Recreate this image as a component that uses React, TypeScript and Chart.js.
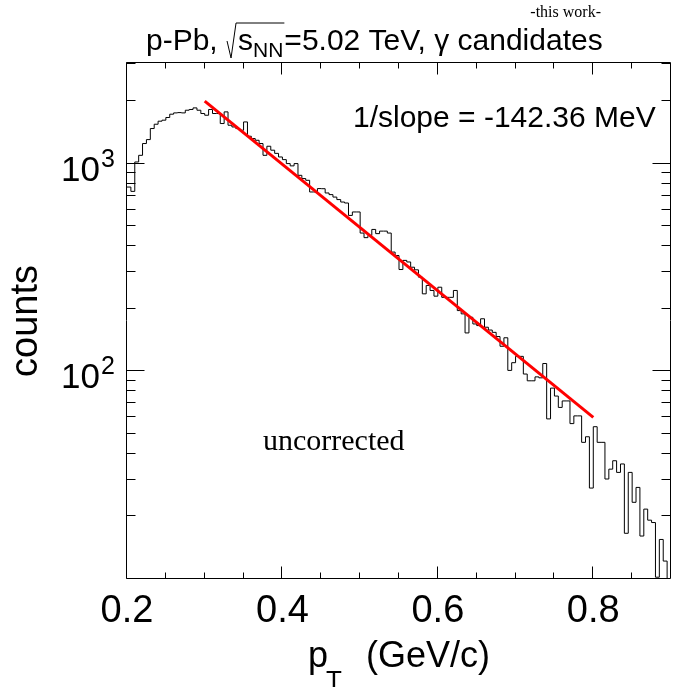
import React, { useEffect, useRef } from "react";
import { Chart, registerables } from "chart.js";

Chart.register(...registerables);

// ---- data ----
const BIN_LOW = 0.2;
const BIN_WIDTH = 0.005;
const counts = [
  771, 735, 1018, 1096, 1249, 1305, 1475, 1547, 1600, 1618,
  1667, 1729, 1754, 1760, 1754, 1807, 1822, 1854, 1807, 1742,
  1709, 1822, 1742, 1742, 1559, 1774, 1530, 1501, 1474, 1447,
  1587, 1354, 1320, 1295, 1249, 1096, 1212, 1160, 1120, 1076,
  1045, 1000, 975, 1000, 878, 847, 831, 730, 730, 758,
  757, 722, 709, 690, 671, 653, 646, 563, 585, 585,
  463, 440, 451, 482, 460, 473, 473, 463, 375, 361,
  309, 342, 336, 317, 308, 284, 236, 259, 245, 230,
  254, 227, 227, 227, 245, 196, 189, 153, 182, 169,
  166, 179, 163, 158, 154, 147, 132, 145, 101, 110,
  118, 118, 97, 90, 90, 94, 93, 109, 59, 83,
  76, 67, 72, 72, 56, 61, 61, 45.5, 48.4, 27.4,
  54.1, 45.5, 45.5, 30.3, 33.8, 37.1, 32.6, 35.8, 16.6, 32.6,
  23.4, 27.6, 16.1, 21.7, 19.2, 18.7, 10.2, 15.5, 12.2, 9,
];
const fitX = [0.3, 0.8];
const fitY = [2000, 60];

const X_MIN = 0.2;
const X_MAX = 0.9;
const Y_MIN = 10;
const Y_MAX = 3050;
const xMajorTicks = [0.2, 0.4, 0.6, 0.8];
const xTickLabels = ["0.2", "0.4", "0.6", "0.8"];
const xMinorTicks = [0.25, 0.3, 0.35, 0.45, 0.5, 0.55, 0.65, 0.7, 0.75, 0.85];
const yMajorTicks = [100, 1000];
const yTickExponents = ["2", "3"];
const yMinorTicks = [20, 30, 40, 50, 60, 70, 80, 90, 200, 300, 400, 500, 600, 700, 800, 900, 2000, 3000];

const TITLE_PRE = "p-Pb, ";
const TITLE_S = "s";
const TITLE_SUB = "NN";
const TITLE_POST = "=5.02 TeV, \u03B3 candidates";
const WATERMARK = "-this work-";
const FIT_LABEL = "1/slope = -142.36 MeV";
const NOTE = "uncorrected";
const X_TITLE_MAIN = "p";
const X_TITLE_SUB = "T";
const X_TITLE_UNIT = "(GeV/c)";
const Y_TITLE = "counts";

const SANS = '"Liberation Sans", Arial, Helvetica, sans-serif';
const SERIF = '"Liberation Serif", "Times New Roman", serif';

const rootStyle = {
  id: "rootStyle",
  afterDraw(chart: any) {
    const { ctx, chartArea: a, scales } = chart;
    const xs = scales.x;
    const ys = scales.y;
    const L = Math.round(a.left) - 0.5;
    const R = Math.round(a.right) - 0.5;
    const T = Math.round(a.top) - 0.5;
    const B = Math.round(a.bottom) - 0.5;
    ctx.save();
    ctx.strokeStyle = "#000";
    ctx.lineWidth = 1;
    ctx.beginPath();
    ctx.rect(L, T, R - L, B - T);
    const xt = (v: number, len: number) => {
      const px = Math.round(xs.getPixelForValue(v)) - 0.5;
      ctx.moveTo(px, B);
      ctx.lineTo(px, B - len);
      ctx.moveTo(px, T);
      ctx.lineTo(px, T + len);
    };
    xMajorTicks.forEach((v) => xt(v, 12));
    xMinorTicks.forEach((v) => xt(v, 6));
    const yt = (v: number, len: number) => {
      const py = Math.round(ys.getPixelForValue(v)) - 0.5;
      ctx.moveTo(L, py);
      ctx.lineTo(L + len, py);
      ctx.moveTo(R, py);
      ctx.lineTo(R - len, py);
    };
    yMajorTicks.forEach((v) => yt(v, 18));
    yMinorTicks.forEach((v) => yt(v, 9));
    ctx.stroke();

    ctx.fillStyle = "#000";
    ctx.textBaseline = "alphabetic";

    // x tick labels
    ctx.font = `38px ${SANS}`;
    ctx.textAlign = "center";
    xMajorTicks.forEach((v, i) => {
      ctx.fillText(xTickLabels[i], xs.getPixelForValue(v), 622);
    });

    // y tick labels 10^n
    yMajorTicks.forEach((v, i) => {
      const py = ys.getPixelForValue(v);
      ctx.font = `35px ${SANS}`;
      ctx.textAlign = "right";
      ctx.fillText("10", 100, py + 17);
      ctx.font = `25px ${SANS}`;
      ctx.textAlign = "left";
      ctx.fillText(yTickExponents[i], 101, py + 3);
    });

    // x title
    ctx.textAlign = "left";
    ctx.font = `36px ${SANS}`;
    ctx.fillText(X_TITLE_MAIN, 308, 667);
    const pw = ctx.measureText(X_TITLE_MAIN).width;
    ctx.font = `26px ${SANS}`;
    ctx.fillText(X_TITLE_SUB, 308 + pw - 2, 689);
    ctx.font = `36px ${SANS}`;
    ctx.fillText(X_TITLE_UNIT, 366, 667);

    // y title
    ctx.save();
    ctx.translate(37, (a.top + a.bottom) / 2);
    ctx.rotate(-Math.PI / 2);
    ctx.font = `38px ${SANS}`;
    ctx.textAlign = "center";
    ctx.fillText(Y_TITLE, 0, 0);
    ctx.restore();

    // title
    const F = 30;
    const by = 50;
    let x = 146;
    ctx.textAlign = "left";
    ctx.font = `${F}px ${SANS}`;
    ctx.fillText(TITLE_PRE, x, by);
    x += ctx.measureText(TITLE_PRE).width;
    const rx = x + 1;
    const sx = rx + 11;
    ctx.fillText(TITLE_S, sx, by);
    let nx = sx + ctx.measureText(TITLE_S).width;
    ctx.font = `21px ${SANS}`;
    ctx.fillText(TITLE_SUB, nx, by + 7);
    nx += ctx.measureText(TITLE_SUB).width;
    ctx.beginPath();
    ctx.moveTo(rx, by - 9);
    ctx.lineTo(rx + 4, by + 8);
    ctx.lineTo(rx + 9, by - 27);
    ctx.lineTo(nx + 1, by - 27);
    ctx.stroke();
    ctx.font = `${F}px ${SANS}`;
    ctx.fillText(TITLE_POST, nx + 1, by);

    // watermark
    ctx.font = `16px ${SERIF}`;
    ctx.textAlign = "right";
    ctx.fillText(WATERMARK, 601, 17);

    // fit label
    ctx.font = `30px ${SANS}`;
    ctx.textAlign = "left";
    ctx.fillText(FIT_LABEL, 353, 127);

    // note
    ctx.font = `30px ${SERIF}`;
    ctx.fillText(NOTE, 263, 450);

    ctx.restore();
  },
};

export default function App() {
  const ref = useRef<HTMLCanvasElement | null>(null);
  useEffect(() => {
    if (!ref.current) return;
    const histData = counts.map((c, i) => ({ x: BIN_LOW + i * BIN_WIDTH, y: c }));
    histData.push({ x: BIN_LOW + counts.length * BIN_WIDTH, y: counts[counts.length - 1] });
    const fitData = fitX.map((v, i) => ({ x: v, y: fitY[i] }));
    const chart = new Chart(ref.current, {
      type: "line",
      data: {
        datasets: [
          {
            label: "fit",
            data: fitData,
            borderColor: "#ff0000",
            borderWidth: 3,
            pointRadius: 0,
            fill: false,
            tension: 0,
            order: 0,
          },
          {
            label: "counts",
            data: histData,
            borderColor: "#000000",
            borderWidth: 1,
            pointRadius: 0,
            fill: false,
            stepped: "before",
            order: 1,
          },
        ],
      },
      options: {
        animation: false,
        responsive: false,
        devicePixelRatio: 1,
        layout: { padding: { top: 63, right: 3, left: 0, bottom: 0 } },
        plugins: {
          legend: { display: false },
          tooltip: { enabled: false },
          title: { display: false },
        },
        scales: {
          x: {
            type: "linear",
            min: X_MIN,
            max: X_MAX,
            ticks: { display: false },
            grid: { display: false, drawTicks: false },
            border: { display: false },
            afterFit: (s: any) => {
              s.height = 108;
            },
          },
          y: {
            type: "logarithmic",
            min: Y_MIN,
            max: Y_MAX,
            ticks: { display: false },
            grid: { display: false, drawTicks: false },
            border: { display: false },
            afterFit: (s: any) => {
              s.width = 127;
            },
          },
        },
      } as any,
      plugins: [rootStyle],
    });
    return () => chart.destroy();
  }, []);
  return (
    <div style={{ position: "absolute", left: 0, top: 0, width: 674, height: 687, background: "#fff" }}>
      <canvas ref={ref} width={674} height={687} style={{ width: 674, height: 687, display: "block" }} />
    </div>
  );
}
